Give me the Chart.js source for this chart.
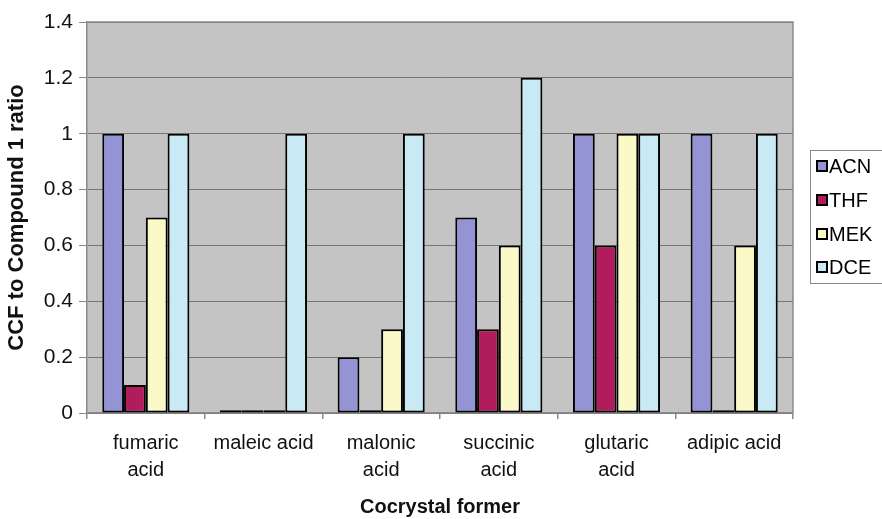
<!DOCTYPE html>
<html>
<head>
<meta charset="utf-8">
<script src="https://cdn.jsdelivr.net/npm/chart.js@4/dist/chart.umd.min.js"></script>
<style>
  html, body { margin: 0; padding: 0; background: #ffffff; }
  canvas { display: block; }
</style>
</head>
<body>
<canvas id="chart" width="882" height="519"></canvas>
<script>
// Cocrystal formers (multi-line category labels)
const categories = [
  ['fumaric', 'acid'],
  ['maleic acid'],
  ['malonic', 'acid'],
  ['succinic', 'acid'],
  ['glutaric', 'acid'],
  ['adipic acid']
];

// CCF to Compound 1 ratio per solvent
const acn = [1.0, 0.01, 0.2, 0.7, 1.0, 1.0];
const thf = [0.1, 0.01, 0.01, 0.3, 0.6, 0.01];
const mek = [0.7, 0.01, 0.3, 0.6, 1.0, 0.6];
const dce = [1.0, 1.0, 1.0, 1.2, 1.0, 1.0];

const seriesNames = ['ACN', 'THF', 'MEK', 'DCE'];
const seriesColors = ['#9494d4', '#b01c5c', '#fcf9c8', '#c9e9f5'];

const yTickLabels = ['0', '0.2', '0.4', '0.6', '0.8', '1', '1.2', '1.4'];

const FONT = "'Liberation Sans', Arial, sans-serif";

const plotFrame = {
  id: 'plotFrame',
  beforeDraw(chart) {
    const { ctx, chartArea: a } = chart;
    ctx.save();
    ctx.fillStyle = '#c4c4c4';
    ctx.fillRect(a.left, a.top, a.right - a.left, a.bottom - a.top);
    ctx.restore();
  },
  afterDraw(chart) {
    const { ctx, chartArea: a } = chart;
    ctx.save();
    ctx.strokeStyle = '#8a8a8a';
    ctx.lineWidth = 1.5;
    ctx.beginPath();
    ctx.moveTo(a.left, a.top);
    ctx.lineTo(a.right, a.top);
    ctx.lineTo(a.right, a.bottom);
    ctx.stroke();

    // legend box
    const bx = 810, by = 150, bw = 90, bh = 133;
    ctx.fillStyle = '#ffffff';
    ctx.fillRect(bx, by, bw, bh);
    ctx.strokeStyle = '#8a8a8a';
    ctx.lineWidth = 1;
    ctx.strokeRect(bx + 0.5, by + 0.5, bw, bh);
    const rows = [166, 200, 234, 267];
    ctx.font = '20px ' + FONT;
    ctx.textBaseline = 'middle';
    ctx.textAlign = 'left';
    chart.data.datasets.forEach((ds, i) => {
      const y = rows[i];
      ctx.fillStyle = ds.backgroundColor;
      ctx.fillRect(817, y - 5, 10, 10);
      ctx.strokeStyle = '#000000';
      ctx.lineWidth = 2;
      ctx.strokeRect(817, y - 5, 10, 10);
      ctx.fillStyle = '#000000';
      ctx.fillText(ds.label, 829, y + 1);
    });
    ctx.restore();
  }
};

const datasets = [acn, thf, mek, dce].map((vals, i) => ({
  label: seriesNames[i],
  data: vals,
  backgroundColor: seriesColors[i],
  borderColor: '#000000',
  borderWidth: 2,
  borderSkipped: false,
  categoryPercentage: 0.74,
  barPercentage: 1.0
}));

new Chart(document.getElementById('chart'), {
  type: 'bar',
  data: { labels: categories, datasets },
  plugins: [plotFrame],
  options: {
    responsive: false,
    animation: false,
    layout: { padding: { left: 0, top: 22, right: 89, bottom: 0 } },
    plugins: {
      legend: { display: false },
      tooltip: { enabled: false }
    },
    scales: {
      x: {
        afterFit(scale) { scale.height = 106; },
        grid: {
          offset: true,
          drawOnChartArea: false,
          drawTicks: true,
          tickLength: 6,
          color: '#8a8a8a',
          lineWidth: 1.5
        },
        border: { color: '#8a8a8a', width: 1.5 },
        ticks: {
          color: '#111111',
          font: { family: FONT, size: 20, lineHeight: 1.35 },
          padding: 11,
          maxRotation: 0,
          autoSkip: false
        },
        title: {
          display: true,
          text: 'Cocrystal former',
          color: '#111111',
          font: { family: FONT, size: 20, weight: 'bold' },
          padding: { top: 0, bottom: 0 }
        }
      },
      y: {
        min: 0,
        max: 1.4,
        afterFit(scale) { scale.width = 87; },
        afterBuildTicks(scale) {
          scale.ticks = yTickLabels.map(t => ({ value: parseFloat(t) }));
        },
        grid: {
          color: '#767676',
          lineWidth: 1,
          drawTicks: true,
          tickLength: 8,
          tickColor: '#8a8a8a'
        },
        border: { color: '#8a8a8a', width: 1.5 },
        ticks: {
          color: '#111111',
          font: { family: FONT, size: 21 },
          padding: 6,
          callback: (v, i) => yTickLabels[i]
        },
        title: {
          display: true,
          text: 'CCF to Compound 1 ratio',
          color: '#111111',
          font: { family: FONT, size: 22, weight: 'bold' },
          padding: { top: 4, bottom: 0 }
        }
      }
    }
  }
});
</script>
</body>
</html>
